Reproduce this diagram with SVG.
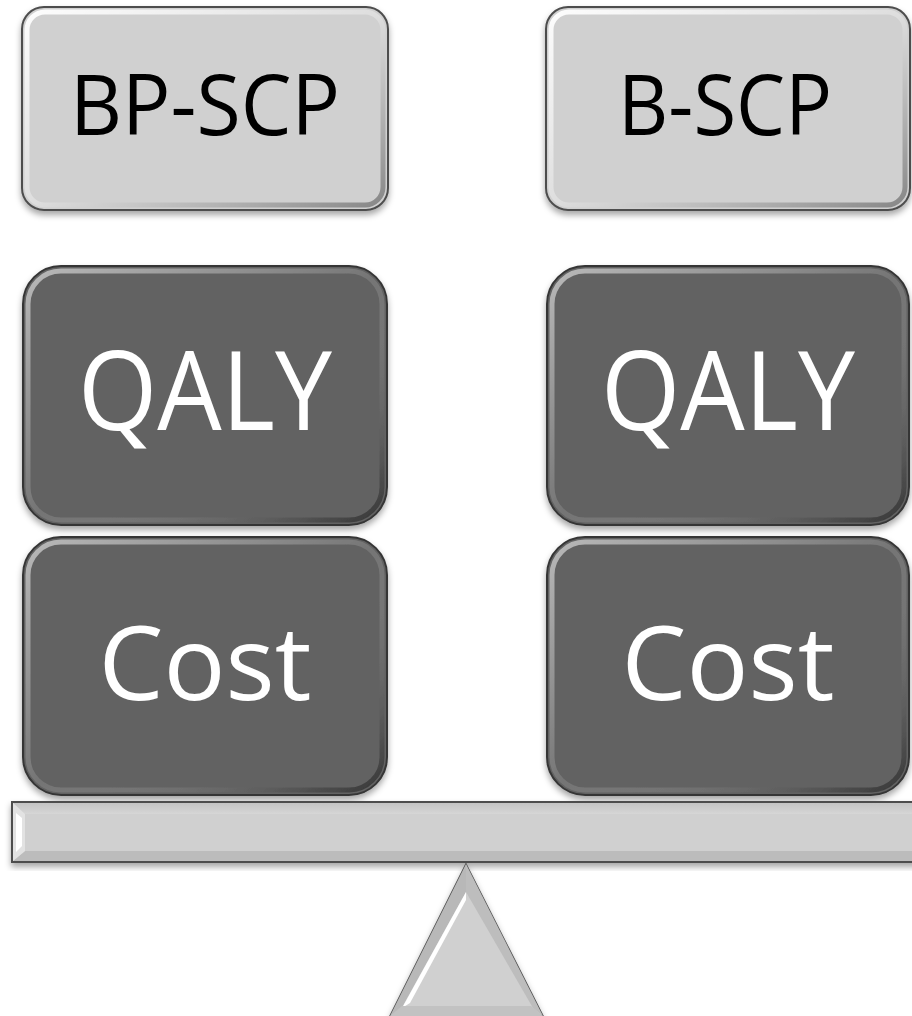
<svg xmlns="http://www.w3.org/2000/svg" width="912" height="1016" viewBox="0 0 912 1016">
  <defs>
    <filter id="shadow" x="-10%" y="-10%" width="120%" height="125%">
      <feDropShadow dx="0" dy="4" stdDeviation="3" flood-color="#000" flood-opacity="0.35"/>
    </filter>
    <linearGradient id="bevelLight" x1="0" y1="0" x2="1" y2="1">
      <stop offset="0" stop-color="#fff" stop-opacity="0.95"/>
      <stop offset="0.5" stop-color="#fff" stop-opacity="0.3"/>
      <stop offset="1" stop-color="#000" stop-opacity="0.35"/>
    </linearGradient>
    <linearGradient id="bevelDark" x1="0" y1="0" x2="1" y2="1">
      <stop offset="0" stop-color="#fff" stop-opacity="0.55"/>
      <stop offset="0.5" stop-color="#fff" stop-opacity="0.12"/>
      <stop offset="1" stop-color="#000" stop-opacity="0.45"/>
    </linearGradient>
    <linearGradient id="barTop" x1="0" y1="0" x2="0" y2="1">
      <stop offset="0" stop-color="#c4c4c4"/>
      <stop offset="1" stop-color="#d6d6d6"/>
    </linearGradient>
  </defs>
  <style>
    .light { fill: #d0d0d0; stroke: #4e4e4e; stroke-width: 2; }
    .dark { fill: #626262; stroke: #363636; stroke-width: 2; }
    .bevL { fill: none; stroke: url(#bevelLight); stroke-width: 5; }
    .bevD { fill: none; stroke: url(#bevelDark); stroke-width: 5; }
    .lbl { font-family: "Open Sans", "Liberation Sans", sans-serif; text-anchor: middle; }
    .lblDark { fill: #000; }
    .lblLight { fill: #fff; }
  </style>

  <!-- header boxes -->
  <g id="bp-scp" filter="url(#shadow)">
    <rect class="light" x="22" y="7" width="366" height="203" rx="22"/>
    <rect class="bevL" x="27" y="12" width="356" height="193" rx="18"/>
    <text class="lbl lblDark" x="205" y="135" font-size="84" textLength="270" lengthAdjust="spacingAndGlyphs">BP-SCP</text>
  </g>
  <g id="b-scp" filter="url(#shadow)">
    <rect class="light" x="546" y="7" width="364" height="203" rx="22"/>
    <rect class="bevL" x="551" y="12" width="354" height="193" rx="18"/>
    <text class="lbl lblDark" x="725" y="135" font-size="84" textLength="214" lengthAdjust="spacingAndGlyphs">B-SCP</text>
  </g>

  <!-- QALY boxes -->
  <g id="qaly-left" filter="url(#shadow)">
    <rect class="dark" x="23" y="266" width="364" height="259" rx="38"/>
    <rect class="bevD" x="28" y="271" width="354" height="249" rx="33"/>
    <text class="lbl lblLight" x="205" y="430" font-size="110" textLength="254" lengthAdjust="spacingAndGlyphs">QALY</text>
  </g>
  <g id="qaly-right" filter="url(#shadow)">
    <rect class="dark" x="547" y="266" width="362" height="259" rx="38"/>
    <rect class="bevD" x="552" y="271" width="352" height="249" rx="33"/>
    <text class="lbl lblLight" x="728" y="430" font-size="110" textLength="254" lengthAdjust="spacingAndGlyphs">QALY</text>
  </g>

  <!-- Cost boxes -->
  <g id="cost-left" filter="url(#shadow)">
    <rect class="dark" x="23" y="537" width="364" height="258" rx="38"/>
    <rect class="bevD" x="28" y="542" width="354" height="248" rx="33"/>
    <text class="lbl lblLight" x="205" y="700" font-size="102" textLength="213" lengthAdjust="spacingAndGlyphs">Cost</text>
  </g>
  <g id="cost-right" filter="url(#shadow)">
    <rect class="dark" x="547" y="537" width="362" height="258" rx="38"/>
    <rect class="bevD" x="552" y="542" width="352" height="248" rx="33"/>
    <text class="lbl lblLight" x="728" y="700" font-size="102" textLength="213" lengthAdjust="spacingAndGlyphs">Cost</text>
  </g>

  <!-- balance beam -->
  <g id="beam" filter="url(#shadow)">
    <rect x="12" y="802" width="920" height="60" fill="#d0d0d0" stroke="#4e4e4e" stroke-width="2"/>
    <polygon points="13,803 931,803 920,814 25,814" fill="url(#barTop)"/>
    <polygon points="13,861 931,861 920,851 25,851" fill="#bcbcbc"/>
    <polygon points="13,803 25,814 25,851 13,861" fill="#e2e2e2"/>
    <polygon points="16,813 22,818 22,846 16,852" fill="#ffffff"/>
  </g>

  <!-- fulcrum -->
  <g id="fulcrum" filter="url(#shadow)">
    <polygon points="466,864 543,1016 390,1016" fill="#d0d0d0" stroke="#4e4e4e" stroke-width="1.5"/>
    <polygon points="466,864 466,892 400,1011 390,1016" fill="#b8b8b8"/>
    <polygon points="466,892 402,1008 410,1003 466,900" fill="#ffffff"/>
    <polygon points="466,864 543,1016 533,1008 466,892" fill="#bdbdbd"/>
    <polygon points="390,1016 543,1016 531,1006 402,1006" fill="#c2c2c2"/>
  </g>
</svg>
